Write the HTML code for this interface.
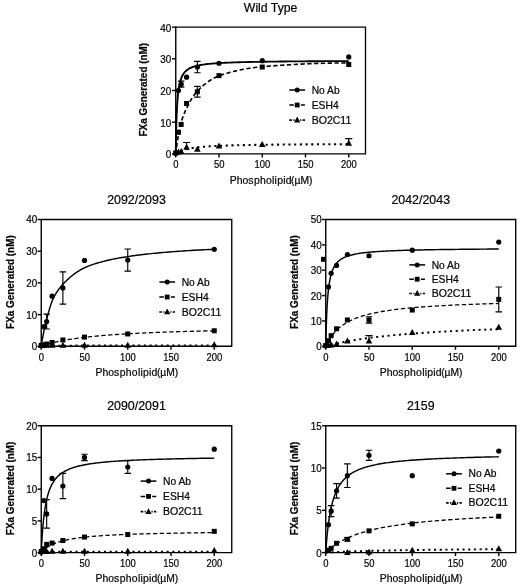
<!DOCTYPE html>
<html><head><meta charset="utf-8"><title>FXa Generated vs Phospholipid</title>
<style>html,body{margin:0;padding:0;background:#fff}svg{display:block}text{font-family:"Liberation Sans", Arial, Helvetica, sans-serif;fill:#000;stroke:#000;stroke-width:.2px}</style>
</head><body>
<svg width="520" height="587" viewBox="0 0 520 587">
<rect width="520" height="587" fill="#fff"/>
<g>
<text x="270.62" y="11.5" font-size="12" text-anchor="middle" textLength="53.6" lengthAdjust="spacingAndGlyphs">Wild Type</text>
<path d="M175.75 153.9 L175.75 153.66 L175.77 152.82 L175.79 151.32 L175.82 149.15 L175.86 146.39 L175.92 143.11 L175.99 139.43 L176.07 135.46 L176.16 131.32 L176.27 127.12 L176.39 122.94 L176.53 118.86 L176.68 114.92 L176.84 111.17 L177.02 107.63 L177.21 104.32 L177.42 101.23 L177.65 98.36 L177.89 95.71 L178.14 93.27 L178.41 91.02 L178.7 88.95 L179 87.05 L179.32 85.3 L179.66 83.69 L180.01 82.21 L180.38 80.86 L180.77 79.61 L181.17 78.45 L181.59 77.39 L182.02 76.41 L182.48 75.5 L182.95 74.67 L183.44 73.89 L183.94 73.17 L184.47 72.5 L185.01 71.88 L185.57 71.3 L186.15 70.76 L186.74 70.26 L187.36 69.79 L187.99 69.35 L188.64 68.94 L189.31 68.55 L189.99 68.19 L190.7 67.85 L191.42 67.53 L192.17 67.23 L192.93 66.95 L193.71 66.69 L194.51 66.43 L195.33 66.2 L196.17 65.97 L197.02 65.76 L197.9 65.56 L198.8 65.37 L199.71 65.19 L200.64 65.02 L201.6 64.85 L202.57 64.7 L203.57 64.55 L204.58 64.41 L205.61 64.28 L206.66 64.15 L207.74 64.03 L208.83 63.91 L209.94 63.8 L211.08 63.7 L212.23 63.6 L213.4 63.5 L214.59 63.41 L215.81 63.32 L217.04 63.23 L218.3 63.15 L219.57 63.07 L220.87 63 L222.18 62.93 L223.52 62.86 L224.88 62.79 L226.26 62.73 L227.66 62.67 L229.08 62.61 L230.52 62.55 L231.98 62.49 L233.46 62.44 L234.97 62.39 L236.49 62.34 L238.04 62.29 L239.61 62.25 L241.2 62.2 L242.81 62.16 L244.44 62.12 L246.09 62.08 L247.77 62.04 L249.47 62 L251.18 61.97 L252.92 61.93 L254.68 61.9 L256.47 61.86 L258.27 61.83 L260.1 61.8 L261.95 61.77 L263.82 61.74 L265.71 61.71 L267.62 61.69 L269.56 61.66 L271.52 61.64 L273.5 61.61 L275.5 61.59 L277.52 61.56 L279.57 61.54 L281.64 61.52 L283.73 61.5 L285.84 61.47 L287.98 61.45 L290.14 61.43 L292.32 61.41 L294.52 61.4 L296.75 61.38 L298.99 61.36 L301.26 61.34 L303.56 61.32 L305.87 61.31 L308.21 61.29 L310.57 61.28 L312.96 61.26 L315.37 61.25 L317.8 61.23 L320.25 61.22 L322.72 61.2 L325.22 61.19 L327.74 61.18 L330.29 61.16 L332.86 61.15 L335.45 61.14 L338.06 61.13 L340.7 61.11 L343.36 61.1 L346.04 61.09 L348.75 61.08" fill="none" stroke="#000" stroke-width="1.85" stroke-linejoin="round"/>
<path d="M175.75 153.9 L175.75 153.84 L175.77 153.7 L175.79 153.46 L175.82 153.13 L175.86 152.72 L175.92 152.25 L175.99 151.71 L176.07 151.14 L176.16 150.53 L176.27 149.83 L176.39 148.9 L176.53 147.79 L176.68 146.55 L176.84 145.25 L177.02 143.94 L177.21 142.62 L177.42 141.21 L177.65 139.72 L177.89 138.19 L178.14 136.64 L178.41 135.1 L178.7 133.55 L179 131.96 L179.32 130.34 L179.66 128.72 L180.01 127.1 L180.38 125.51 L180.77 123.96 L181.17 122.48 L181.59 121.04 L182.02 119.63 L182.48 118.25 L182.95 116.89 L183.44 115.55 L183.94 114.24 L184.47 112.94 L185.01 111.65 L185.57 110.38 L186.15 109.13 L186.74 107.88 L187.36 106.63 L187.99 105.37 L188.64 104.12 L189.31 102.86 L189.99 101.62 L190.7 100.39 L191.42 99.17 L192.17 97.98 L192.93 96.81 L193.71 95.67 L194.51 94.57 L195.33 93.5 L196.17 92.48 L197.02 91.51 L197.9 90.58 L198.8 89.67 L199.71 88.76 L200.64 87.86 L201.6 86.97 L202.57 86.1 L203.57 85.24 L204.58 84.39 L205.61 83.57 L206.66 82.76 L207.74 81.98 L208.83 81.22 L209.94 80.48 L211.08 79.78 L212.23 79.1 L213.4 78.45 L214.59 77.83 L215.81 77.24 L217.04 76.69 L218.3 76.18 L219.57 75.71 L220.87 75.25 L222.18 74.79 L223.52 74.34 L224.88 73.9 L226.26 73.47 L227.66 73.05 L229.08 72.64 L230.52 72.24 L231.98 71.84 L233.46 71.46 L234.97 71.09 L236.49 70.72 L238.04 70.37 L239.61 70.03 L241.2 69.7 L242.81 69.38 L244.44 69.08 L246.09 68.78 L247.77 68.5 L249.47 68.24 L251.18 67.98 L252.92 67.74 L254.68 67.51 L256.47 67.3 L258.27 67.1 L260.1 66.92 L261.95 66.75 L263.82 66.59 L265.71 66.44 L267.62 66.28 L269.56 66.13 L271.52 65.97 L273.5 65.82 L275.5 65.67 L277.52 65.53 L279.57 65.38 L281.64 65.24 L283.73 65.1 L285.84 64.96 L287.98 64.83 L290.14 64.7 L292.32 64.57 L294.52 64.44 L296.75 64.32 L298.99 64.2 L301.26 64.09 L303.56 63.98 L305.87 63.87 L308.21 63.77 L310.57 63.68 L312.96 63.59 L315.37 63.5 L317.8 63.42 L320.25 63.34 L322.72 63.27 L325.22 63.21 L327.74 63.15 L330.29 63.1 L332.86 63.05 L335.45 63.01 L338.06 62.98 L340.7 62.95 L343.36 62.94 L346.04 62.92 L348.75 62.92" fill="none" stroke="#000" stroke-width="1.63" stroke-dasharray="4.3 2.5" stroke-linejoin="round"/>
<path d="M175.75 153.9 L175.75 153.9 L175.77 153.89 L175.79 153.87 L175.82 153.84 L175.86 153.81 L175.92 153.77 L175.99 153.71 L176.07 153.65 L176.16 153.58 L176.27 153.5 L176.39 153.41 L176.53 153.31 L176.68 153.2 L176.84 153.09 L177.02 152.97 L177.21 152.84 L177.42 152.71 L177.65 152.57 L177.89 152.42 L178.14 152.27 L178.41 152.12 L178.7 151.96 L179 151.8 L179.32 151.64 L179.66 151.48 L180.01 151.31 L180.38 151.15 L180.77 150.98 L181.17 150.82 L181.59 150.65 L182.02 150.49 L182.48 150.33 L182.95 150.17 L183.44 150.01 L183.94 149.85 L184.47 149.7 L185.01 149.54 L185.57 149.39 L186.15 149.25 L186.74 149.1 L187.36 148.96 L187.99 148.82 L188.64 148.69 L189.31 148.55 L189.99 148.43 L190.7 148.3 L191.42 148.18 L192.17 148.06 L192.93 147.94 L193.71 147.83 L194.51 147.72 L195.33 147.61 L196.17 147.5 L197.02 147.4 L197.9 147.3 L198.8 147.21 L199.71 147.11 L200.64 147.02 L201.6 146.94 L202.57 146.85 L203.57 146.77 L204.58 146.69 L205.61 146.61 L206.66 146.53 L207.74 146.46 L208.83 146.39 L209.94 146.32 L211.08 146.25 L212.23 146.18 L213.4 146.12 L214.59 146.06 L215.81 146 L217.04 145.94 L218.3 145.88 L219.57 145.83 L220.87 145.78 L222.18 145.72 L223.52 145.67 L224.88 145.62 L226.26 145.58 L227.66 145.53 L229.08 145.49 L230.52 145.44 L231.98 145.4 L233.46 145.36 L234.97 145.32 L236.49 145.28 L238.04 145.24 L239.61 145.21 L241.2 145.17 L242.81 145.13 L244.44 145.1 L246.09 145.07 L247.77 145.04 L249.47 145 L251.18 144.97 L252.92 144.94 L254.68 144.92 L256.47 144.89 L258.27 144.86 L260.1 144.83 L261.95 144.81 L263.82 144.78 L265.71 144.76 L267.62 144.73 L269.56 144.71 L271.52 144.69 L273.5 144.66 L275.5 144.64 L277.52 144.62 L279.57 144.6 L281.64 144.58 L283.73 144.56 L285.84 144.54 L287.98 144.52 L290.14 144.5 L292.32 144.49 L294.52 144.47 L296.75 144.45 L298.99 144.44 L301.26 144.42 L303.56 144.4 L305.87 144.39 L308.21 144.37 L310.57 144.36 L312.96 144.34 L315.37 144.33 L317.8 144.31 L320.25 144.3 L322.72 144.29 L325.22 144.27 L327.74 144.26 L330.29 144.25 L332.86 144.24 L335.45 144.23 L338.06 144.21 L340.7 144.2 L343.36 144.19 L346.04 144.18 L348.75 144.17" fill="none" stroke="#000" stroke-width="2.1" stroke-dasharray="2.1 3.6" stroke-dashoffset="0" stroke-linejoin="round"/>
<path d="M175.75 27.1 H365.5 V153.9" fill="none" stroke="#000" stroke-width="1.35"/>
<path d="M175.75 26.6 V153.9 H366" fill="none" stroke="#000" stroke-width="1.4"/>
<path d="M172.05 153.9 H175.75" stroke="#000" stroke-width="1.4"/>
<text x="171.35" y="158.4" font-size="10.3" text-anchor="end" textLength="5.5" lengthAdjust="spacingAndGlyphs">0</text>
<path d="M172.05 122.2 H175.75" stroke="#000" stroke-width="1.4"/>
<text x="171.35" y="126.7" font-size="10.3" text-anchor="end" textLength="11" lengthAdjust="spacingAndGlyphs">10</text>
<path d="M172.05 90.5 H175.75" stroke="#000" stroke-width="1.4"/>
<text x="171.35" y="95" font-size="10.3" text-anchor="end" textLength="11" lengthAdjust="spacingAndGlyphs">20</text>
<path d="M172.05 58.8 H175.75" stroke="#000" stroke-width="1.4"/>
<text x="171.35" y="63.3" font-size="10.3" text-anchor="end" textLength="11" lengthAdjust="spacingAndGlyphs">30</text>
<path d="M172.05 27.1 H175.75" stroke="#000" stroke-width="1.4"/>
<text x="171.35" y="31.6" font-size="10.3" text-anchor="end" textLength="11" lengthAdjust="spacingAndGlyphs">40</text>
<path d="M175.75 153.9 V157.4" stroke="#000" stroke-width="1.4"/>
<text x="175.95" y="168.4" font-size="10.3" text-anchor="middle" textLength="5.25" lengthAdjust="spacingAndGlyphs">0</text>
<path d="M219 153.9 V157.4" stroke="#000" stroke-width="1.4"/>
<text x="219.2" y="168.4" font-size="10.3" text-anchor="middle" textLength="10.5" lengthAdjust="spacingAndGlyphs">50</text>
<path d="M262.25 153.9 V157.4" stroke="#000" stroke-width="1.4"/>
<text x="262.45" y="168.4" font-size="10.3" text-anchor="middle" textLength="15.75" lengthAdjust="spacingAndGlyphs">100</text>
<path d="M305.5 153.9 V157.4" stroke="#000" stroke-width="1.4"/>
<text x="305.7" y="168.4" font-size="10.3" text-anchor="middle" textLength="15.75" lengthAdjust="spacingAndGlyphs">150</text>
<path d="M348.75 153.9 V157.4" stroke="#000" stroke-width="1.4"/>
<text x="348.95" y="168.4" font-size="10.3" text-anchor="middle" textLength="15.75" lengthAdjust="spacingAndGlyphs">200</text>
<text y="184.1" font-size="10.4"><tspan x="229.72">Phos</tspan><tspan x="253.93" textLength="37.6" lengthAdjust="spacing">pholipid</tspan><tspan x="291.02" textLength="21.4" lengthAdjust="spacingAndGlyphs">(µM)</tspan></text>
<text transform="translate(147.05 89.7) rotate(-90)" font-size="10" font-weight="bold" text-anchor="middle" textLength="93.6" lengthAdjust="spacingAndGlyphs" stroke="none">FXa Generated (nM)</text>
<circle cx="175.75" cy="153.27" r="2.6"/>
<circle cx="178.45" cy="90.5" r="2.6"/>
<path d="M181.16 81.15 V84.16 M177.91 81.15 H184.41" stroke="#000" stroke-width="1.15" fill="none"/>
<path d="M181.16 87.17 V84.16 M177.91 87.17 H184.41" stroke="#000" stroke-width="1.15" fill="none"/>
<circle cx="181.16" cy="84.16" r="2.6"/>
<circle cx="186.56" cy="77.19" r="2.6"/>
<path d="M197.38 61.34 V67.04 M194.12 61.34 H200.62" stroke="#000" stroke-width="1.15" fill="none"/>
<path d="M197.38 72.75 V67.04 M194.12 72.75 H200.62" stroke="#000" stroke-width="1.15" fill="none"/>
<circle cx="197.38" cy="67.04" r="2.6"/>
<circle cx="219" cy="63.24" r="2.6"/>
<circle cx="262.25" cy="60.7" r="2.6"/>
<circle cx="348.75" cy="56.9" r="2.6"/>
<rect x="173.25" y="150.45" width="5" height="5"/>
<rect x="175.95" y="129.84" width="5" height="5"/>
<rect x="178.66" y="121.92" width="5" height="5"/>
<rect x="184.06" y="101" width="5" height="5"/>
<path d="M197.38 86.38 V91.77 M194.12 86.38 H200.62" stroke="#000" stroke-width="1.15" fill="none"/>
<path d="M197.38 97.16 V91.77 M194.12 97.16 H200.62" stroke="#000" stroke-width="1.15" fill="none"/>
<rect x="194.88" y="89.27" width="5" height="5"/>
<rect x="216.5" y="73.1" width="5" height="5"/>
<rect x="259.75" y="64.54" width="5" height="5"/>
<rect x="346.25" y="62.01" width="5" height="5"/>
<path d="M175.75 148.93 L179.05 154.93 H172.45 Z"/>
<path d="M178.45 148.62 L181.75 154.62 H175.15 Z"/>
<path d="M181.16 147.98 L184.46 153.98 H177.86 Z"/>
<path d="M186.56 142.49 V147.56 M182.96 142.49 H190.16" stroke="#000" stroke-width="1.15" fill="none"/>
<path d="M186.56 143.86 L189.86 149.86 H183.26 Z"/>
<path d="M197.38 145.76 L200.68 151.76 H194.07 Z"/>
<path d="M219 142.59 L222.3 148.59 H215.7 Z"/>
<path d="M262.25 141.01 L265.55 147.01 H258.95 Z"/>
<path d="M348.75 138.68 V143.44 M345.15 138.68 H352.35" stroke="#000" stroke-width="1.15" fill="none"/>
<path d="M348.75 139.74 L352.05 145.74 H345.45 Z"/>
<path d="M289.3 90 H305.1" stroke="#000" stroke-width="1.5"/>
<circle cx="297.2" cy="90" r="2.5"/>
<text x="311.7" y="93.6" font-size="10.2" textLength="28.0" lengthAdjust="spacingAndGlyphs">No Ab</text>
<path d="M289.3 105.05 H293.9 M300.9 105.05 H304.9" stroke="#000" stroke-width="1.5"/>
<rect x="294.8" y="102.65" width="4.8" height="4.8"/>
<text x="311.7" y="108.65" font-size="10.2" textLength="27.0" lengthAdjust="spacingAndGlyphs">ESH4</text>
<path d="M289.3 120.1 h2.6 M293.3 120.1 h1.2 M300.2 120.1 h1.2 M302.7 120.1 h2.3" stroke="#000" stroke-width="1.7"/>
<path d="M297.2 116.6 L300.3 122.4 H294.1 Z"/>
<text x="311.7" y="123.7" font-size="10.2" textLength="39.6" lengthAdjust="spacingAndGlyphs">BO2C11</text>
</g>
<g>
<text x="136.5" y="203.8" font-size="12" text-anchor="middle" textLength="58.7" lengthAdjust="spacingAndGlyphs">2092/2093</text>
<path d="M41.25 346.3 L41.25 346.2 L41.27 346.03 L41.29 345.79 L41.32 345.48 L41.36 345.11 L41.42 344.67 L41.49 344.17 L41.57 343.61 L41.66 342.99 L41.77 342.33 L41.89 341.63 L42.03 340.89 L42.18 340.11 L42.34 339.31 L42.52 338.49 L42.71 337.58 L42.92 336.45 L43.15 335.17 L43.39 333.78 L43.64 332.36 L43.91 330.96 L44.2 329.59 L44.5 328.2 L44.82 326.79 L45.16 325.34 L45.51 323.87 L45.88 322.38 L46.27 320.86 L46.67 319.31 L47.09 317.71 L47.52 316.06 L47.98 314.35 L48.45 312.61 L48.94 310.86 L49.44 309.1 L49.97 307.35 L50.51 305.64 L51.07 303.97 L51.65 302.37 L52.24 300.84 L52.86 299.37 L53.49 297.98 L54.14 296.68 L54.81 295.46 L55.49 294.26 L56.2 293.09 L56.92 291.94 L57.67 290.83 L58.43 289.74 L59.21 288.67 L60.01 287.64 L60.83 286.62 L61.67 285.63 L62.52 284.66 L63.4 283.71 L64.3 282.78 L65.21 281.85 L66.14 280.93 L67.1 280.01 L68.07 279.1 L69.07 278.2 L70.08 277.32 L71.11 276.44 L72.16 275.58 L73.24 274.74 L74.33 273.91 L75.44 273.11 L76.58 272.32 L77.73 271.56 L78.9 270.82 L80.09 270.11 L81.31 269.42 L82.54 268.76 L83.8 268.14 L85.07 267.54 L86.37 266.97 L87.68 266.42 L89.02 265.88 L90.38 265.37 L91.76 264.87 L93.16 264.38 L94.58 263.91 L96.02 263.46 L97.48 263.01 L98.96 262.58 L100.47 262.16 L101.99 261.75 L103.54 261.35 L105.11 260.96 L106.7 260.57 L108.31 260.2 L109.94 259.83 L111.59 259.47 L113.27 259.12 L114.97 258.78 L116.68 258.44 L118.42 258.12 L120.18 257.81 L121.97 257.5 L123.77 257.2 L125.6 256.91 L127.45 256.63 L129.32 256.36 L131.21 256.09 L133.12 255.83 L135.06 255.56 L137.02 255.31 L139 255.05 L141 254.8 L143.02 254.56 L145.07 254.32 L147.14 254.08 L149.23 253.85 L151.34 253.62 L153.48 253.4 L155.64 253.18 L157.82 252.97 L160.02 252.76 L162.25 252.56 L164.49 252.36 L166.76 252.17 L169.06 251.99 L171.37 251.81 L173.71 251.63 L176.07 251.45 L178.46 251.28 L180.87 251.12 L183.3 250.95 L185.75 250.79 L188.22 250.63 L190.72 250.48 L193.24 250.33 L195.79 250.19 L198.36 250.04 L200.95 249.91 L203.56 249.78 L206.2 249.65 L208.86 249.53 L211.54 249.41 L214.25 249.3" fill="none" stroke="#000" stroke-width="1.45" stroke-linejoin="round"/>
<path d="M41.25 346.3 L41.25 346.3 L41.27 346.29 L41.29 346.29 L41.32 346.27 L41.36 346.26 L41.42 346.24 L41.49 346.21 L41.57 346.18 L41.66 346.15 L41.77 346.11 L41.89 346.07 L42.03 346.02 L42.18 345.97 L42.34 345.91 L42.52 345.84 L42.71 345.78 L42.92 345.7 L43.15 345.63 L43.39 345.55 L43.64 345.46 L43.91 345.37 L44.2 345.27 L44.5 345.17 L44.82 345.07 L45.16 344.96 L45.51 344.85 L45.88 344.73 L46.27 344.61 L46.67 344.49 L47.09 344.36 L47.52 344.23 L47.98 344.1 L48.45 343.96 L48.94 343.82 L49.44 343.68 L49.97 343.53 L50.51 343.39 L51.07 343.24 L51.65 343.08 L52.24 342.93 L52.86 342.77 L53.49 342.62 L54.14 342.46 L54.81 342.3 L55.49 342.14 L56.2 341.97 L56.92 341.81 L57.67 341.64 L58.43 341.48 L59.21 341.31 L60.01 341.15 L60.83 340.98 L61.67 340.81 L62.52 340.64 L63.4 340.48 L64.3 340.31 L65.21 340.14 L66.14 339.98 L67.1 339.81 L68.07 339.65 L69.07 339.48 L70.08 339.32 L71.11 339.15 L72.16 338.99 L73.24 338.83 L74.33 338.67 L75.44 338.51 L76.58 338.35 L77.73 338.19 L78.9 338.04 L80.09 337.88 L81.31 337.73 L82.54 337.58 L83.8 337.42 L85.07 337.27 L86.37 337.13 L87.68 336.98 L89.02 336.83 L90.38 336.69 L91.76 336.55 L93.16 336.41 L94.58 336.27 L96.02 336.13 L97.48 336 L98.96 335.86 L100.47 335.73 L101.99 335.6 L103.54 335.47 L105.11 335.34 L106.7 335.22 L108.31 335.09 L109.94 334.97 L111.59 334.85 L113.27 334.73 L114.97 334.61 L116.68 334.49 L118.42 334.38 L120.18 334.27 L121.97 334.15 L123.77 334.04 L125.6 333.94 L127.45 333.83 L129.32 333.72 L131.21 333.62 L133.12 333.52 L135.06 333.42 L137.02 333.32 L139 333.22 L141 333.12 L143.02 333.03 L145.07 332.93 L147.14 332.84 L149.23 332.75 L151.34 332.66 L153.48 332.57 L155.64 332.49 L157.82 332.4 L160.02 332.32 L162.25 332.23 L164.49 332.15 L166.76 332.07 L169.06 331.99 L171.37 331.91 L173.71 331.83 L176.07 331.76 L178.46 331.68 L180.87 331.61 L183.3 331.54 L185.75 331.47 L188.22 331.4 L190.72 331.33 L193.24 331.26 L195.79 331.19 L198.36 331.13 L200.95 331.06 L203.56 331 L206.2 330.93 L208.86 330.87 L211.54 330.81 L214.25 330.75" fill="none" stroke="#000" stroke-width="1.28" stroke-dasharray="4.3 2.5" stroke-linejoin="round"/>
<path d="M41.25 346.3 L41.25 346.3 L41.27 346.3 L41.29 346.29 L41.32 346.29 L41.36 346.28 L41.42 346.27 L41.49 346.26 L41.57 346.25 L41.66 346.23 L41.77 346.21 L41.89 346.2 L42.03 346.18 L42.18 346.16 L42.34 346.14 L42.52 346.12 L42.71 346.1 L42.92 346.08 L43.15 346.06 L43.39 346.04 L43.64 346.02 L43.91 346 L44.2 345.98 L44.5 345.96 L44.82 345.94 L45.16 345.92 L45.51 345.91 L45.88 345.89 L46.27 345.87 L46.67 345.86 L47.09 345.84 L47.52 345.83 L47.98 345.82 L48.45 345.8 L48.94 345.79 L49.44 345.78 L49.97 345.77 L50.51 345.76 L51.07 345.75 L51.65 345.74 L52.24 345.73 L52.86 345.72 L53.49 345.71 L54.14 345.71 L54.81 345.7 L55.49 345.69 L56.2 345.69 L56.92 345.68 L57.67 345.67 L58.43 345.67 L59.21 345.66 L60.01 345.66 L60.83 345.65 L61.67 345.65 L62.52 345.64 L63.4 345.64 L64.3 345.63 L65.21 345.63 L66.14 345.62 L67.1 345.62 L68.07 345.62 L69.07 345.61 L70.08 345.61 L71.11 345.61 L72.16 345.6 L73.24 345.6 L74.33 345.6 L75.44 345.6 L76.58 345.59 L77.73 345.59 L78.9 345.59 L80.09 345.59 L81.31 345.58 L82.54 345.58 L83.8 345.58 L85.07 345.58 L86.37 345.58 L87.68 345.58 L89.02 345.57 L90.38 345.57 L91.76 345.57 L93.16 345.57 L94.58 345.57 L96.02 345.57 L97.48 345.56 L98.96 345.56 L100.47 345.56 L101.99 345.56 L103.54 345.56 L105.11 345.56 L106.7 345.56 L108.31 345.56 L109.94 345.55 L111.59 345.55 L113.27 345.55 L114.97 345.55 L116.68 345.55 L118.42 345.55 L120.18 345.55 L121.97 345.55 L123.77 345.55 L125.6 345.55 L127.45 345.55 L129.32 345.54 L131.21 345.54 L133.12 345.54 L135.06 345.54 L137.02 345.54 L139 345.54 L141 345.54 L143.02 345.54 L145.07 345.54 L147.14 345.54 L149.23 345.54 L151.34 345.54 L153.48 345.54 L155.64 345.54 L157.82 345.54 L160.02 345.54 L162.25 345.53 L164.49 345.53 L166.76 345.53 L169.06 345.53 L171.37 345.53 L173.71 345.53 L176.07 345.53 L178.46 345.53 L180.87 345.53 L183.3 345.53 L185.75 345.53 L188.22 345.53 L190.72 345.53 L193.24 345.53 L195.79 345.53 L198.36 345.53 L200.95 345.53 L203.56 345.53 L206.2 345.53 L208.86 345.53 L211.54 345.53 L214.25 345.53" fill="none" stroke="#000" stroke-width="1.95" stroke-dasharray="2.1 3.6" stroke-dashoffset="0" stroke-linejoin="round"/>
<path d="M41.25 219.5 H231.75 V346.3" fill="none" stroke="#000" stroke-width="1.35"/>
<path d="M41.25 219 V346.3 H232.25" fill="none" stroke="#000" stroke-width="1.4"/>
<path d="M37.55 346.3 H41.25" stroke="#000" stroke-width="1.4"/>
<text x="37.25" y="350.25" font-size="10.3" text-anchor="end" textLength="5.5" lengthAdjust="spacingAndGlyphs">0</text>
<path d="M37.55 314.6 H41.25" stroke="#000" stroke-width="1.4"/>
<text x="37.25" y="318.55" font-size="10.3" text-anchor="end" textLength="11" lengthAdjust="spacingAndGlyphs">10</text>
<path d="M37.55 282.9 H41.25" stroke="#000" stroke-width="1.4"/>
<text x="37.25" y="286.85" font-size="10.3" text-anchor="end" textLength="11" lengthAdjust="spacingAndGlyphs">20</text>
<path d="M37.55 251.2 H41.25" stroke="#000" stroke-width="1.4"/>
<text x="37.25" y="255.15" font-size="10.3" text-anchor="end" textLength="11" lengthAdjust="spacingAndGlyphs">30</text>
<path d="M37.55 219.5 H41.25" stroke="#000" stroke-width="1.4"/>
<text x="37.25" y="223.45" font-size="10.3" text-anchor="end" textLength="11" lengthAdjust="spacingAndGlyphs">40</text>
<path d="M41.25 346.3 V349.8" stroke="#000" stroke-width="1.4"/>
<text x="41.45" y="360.8" font-size="10.3" text-anchor="middle" textLength="5.25" lengthAdjust="spacingAndGlyphs">0</text>
<path d="M84.5 346.3 V349.8" stroke="#000" stroke-width="1.4"/>
<text x="84.7" y="360.8" font-size="10.3" text-anchor="middle" textLength="10.5" lengthAdjust="spacingAndGlyphs">50</text>
<path d="M127.75 346.3 V349.8" stroke="#000" stroke-width="1.4"/>
<text x="127.95" y="360.8" font-size="10.3" text-anchor="middle" textLength="15.75" lengthAdjust="spacingAndGlyphs">100</text>
<path d="M171 346.3 V349.8" stroke="#000" stroke-width="1.4"/>
<text x="171.2" y="360.8" font-size="10.3" text-anchor="middle" textLength="15.75" lengthAdjust="spacingAndGlyphs">150</text>
<path d="M214.25 346.3 V349.8" stroke="#000" stroke-width="1.4"/>
<text x="214.45" y="360.8" font-size="10.3" text-anchor="middle" textLength="15.75" lengthAdjust="spacingAndGlyphs">200</text>
<text y="375.8" font-size="10.4"><tspan x="95.6">Phos</tspan><tspan x="119.8" textLength="37.6" lengthAdjust="spacing">pholipid</tspan><tspan x="156.9" textLength="21.4" lengthAdjust="spacingAndGlyphs">(µM)</tspan></text>
<text transform="translate(13.95 282.1) rotate(-90)" font-size="10" font-weight="bold" text-anchor="middle" textLength="93.6" lengthAdjust="spacingAndGlyphs" stroke="none">FXa Generated (nM)</text>
<circle cx="41.25" cy="345.67" r="2.6"/>
<circle cx="43.95" cy="326.65" r="2.6"/>
<path d="M46.66 314.12 V321.57 M43.41 314.12 H49.91" stroke="#000" stroke-width="1.15" fill="none"/>
<path d="M46.66 329.02 V321.57 M43.41 329.02 H49.91" stroke="#000" stroke-width="1.15" fill="none"/>
<circle cx="46.66" cy="321.57" r="2.6"/>
<circle cx="52.06" cy="296.21" r="2.6"/>
<path d="M62.88 271.81 V287.97 M59.62 271.81 H66.12" stroke="#000" stroke-width="1.15" fill="none"/>
<path d="M62.88 304.14 V287.97 M59.62 304.14 H66.12" stroke="#000" stroke-width="1.15" fill="none"/>
<circle cx="62.88" cy="287.97" r="2.6"/>
<circle cx="84.5" cy="260.39" r="2.6"/>
<path d="M127.75 248.98 V260.08 M124.5 248.98 H131" stroke="#000" stroke-width="1.15" fill="none"/>
<path d="M127.75 271.17 V260.08 M124.5 271.17 H131" stroke="#000" stroke-width="1.15" fill="none"/>
<circle cx="127.75" cy="260.08" r="2.6"/>
<circle cx="214.25" cy="249.3" r="2.6"/>
<rect x="38.75" y="342.85" width="5" height="5"/>
<rect x="41.45" y="342.53" width="5" height="5"/>
<rect x="44.16" y="341.58" width="5" height="5"/>
<rect x="49.56" y="340" width="5" height="5"/>
<rect x="60.38" y="337.46" width="5" height="5"/>
<rect x="82" y="334.61" width="5" height="5"/>
<rect x="125.25" y="331.44" width="5" height="5"/>
<rect x="211.75" y="328.27" width="5" height="5"/>
<path d="M41.25 341.65 L44.55 347.65 H37.95 Z"/>
<path d="M43.95 341.65 L47.25 347.65 H40.65 Z"/>
<path d="M46.66 341.65 L49.96 347.65 H43.36 Z"/>
<path d="M52.06 341.65 L55.36 347.65 H48.76 Z"/>
<path d="M62.88 341.65 L66.17 347.65 H59.58 Z"/>
<path d="M84.5 341.65 L87.8 347.65 H81.2 Z"/>
<path d="M127.75 341.65 L131.05 347.65 H124.45 Z"/>
<path d="M214.25 341.33 L217.55 347.33 H210.95 Z"/>
<path d="M159.3 282 H175.1" stroke="#000" stroke-width="1.5"/>
<circle cx="167.2" cy="282" r="2.5"/>
<text x="181.7" y="285.6" font-size="10.2" textLength="28.0" lengthAdjust="spacingAndGlyphs">No Ab</text>
<path d="M159.3 297 H163.9 M170.9 297 H174.9" stroke="#000" stroke-width="1.5"/>
<rect x="164.8" y="294.6" width="4.8" height="4.8"/>
<text x="181.7" y="300.6" font-size="10.2" textLength="27.0" lengthAdjust="spacingAndGlyphs">ESH4</text>
<path d="M159.3 312 h2.6 M163.3 312 h1.2 M170.2 312 h1.2 M172.7 312 h2.3" stroke="#000" stroke-width="1.7"/>
<path d="M167.2 308.5 L170.3 314.3 H164.1 Z"/>
<text x="181.7" y="315.6" font-size="10.2" textLength="39.6" lengthAdjust="spacingAndGlyphs">BO2C11</text>
</g>
<g>
<text x="420.75" y="203.8" font-size="12" text-anchor="middle" textLength="58.7" lengthAdjust="spacingAndGlyphs">2042/2043</text>
<path d="M325.75 346.3 L325.75 346.14 L325.77 345.56 L325.79 344.51 L325.82 342.99 L325.86 341 L325.92 338.59 L325.99 335.8 L326.07 332.71 L326.16 329.39 L326.27 325.89 L326.39 322.29 L326.53 318.65 L326.68 315.02 L326.84 311.44 L327.02 307.95 L327.21 304.58 L327.42 301.35 L327.65 298.27 L327.89 295.34 L328.14 292.58 L328.41 289.98 L328.7 287.53 L329 285.24 L329.32 283.1 L329.66 281.09 L330.01 279.22 L330.38 277.48 L330.77 275.85 L331.17 274.33 L331.59 272.91 L332.02 271.59 L332.48 270.36 L332.95 269.21 L333.44 268.13 L333.94 267.13 L334.47 266.19 L335.01 265.3 L335.57 264.48 L336.15 263.71 L336.74 262.98 L337.36 262.3 L337.99 261.66 L338.64 261.06 L339.31 260.5 L339.99 259.96 L340.7 259.46 L341.42 258.99 L342.17 258.54 L342.93 258.12 L343.71 257.72 L344.51 257.34 L345.33 256.98 L346.17 256.64 L347.02 256.32 L347.9 256.01 L348.8 255.72 L349.71 255.45 L350.64 255.18 L351.6 254.94 L352.57 254.7 L353.57 254.47 L354.58 254.26 L355.61 254.05 L356.66 253.85 L357.74 253.66 L358.83 253.49 L359.94 253.31 L361.08 253.15 L362.23 252.99 L363.4 252.84 L364.59 252.7 L365.81 252.56 L367.04 252.43 L368.3 252.3 L369.57 252.18 L370.87 252.06 L372.18 251.95 L373.52 251.84 L374.88 251.73 L376.26 251.63 L377.66 251.54 L379.08 251.44 L380.52 251.35 L381.98 251.27 L383.46 251.18 L384.97 251.1 L386.49 251.02 L388.04 250.95 L389.61 250.88 L391.2 250.81 L392.81 250.74 L394.44 250.67 L396.09 250.61 L397.77 250.55 L399.47 250.49 L401.18 250.43 L402.92 250.38 L404.68 250.32 L406.47 250.27 L408.27 250.22 L410.1 250.17 L411.95 250.12 L413.82 250.08 L415.71 250.03 L417.62 249.99 L419.56 249.95 L421.52 249.91 L423.5 249.87 L425.5 249.83 L427.52 249.79 L429.57 249.75 L431.64 249.72 L433.73 249.68 L435.84 249.65 L437.98 249.62 L440.14 249.59 L442.32 249.55 L444.52 249.52 L446.75 249.49 L448.99 249.47 L451.26 249.44 L453.56 249.41 L455.87 249.38 L458.21 249.36 L460.57 249.33 L462.96 249.31 L465.37 249.29 L467.8 249.26 L470.25 249.24 L472.72 249.22 L475.22 249.2 L477.74 249.17 L480.29 249.15 L482.86 249.13 L485.45 249.11 L488.06 249.09 L490.7 249.08 L493.36 249.06 L496.04 249.04 L498.75 249.02" fill="none" stroke="#000" stroke-width="1.45" stroke-linejoin="round"/>
<path d="M325.75 346.3 L325.75 346.29 L325.77 346.27 L325.79 346.22 L325.82 346.15 L325.86 346.05 L325.92 345.93 L325.99 345.78 L326.07 345.6 L326.16 345.4 L326.27 345.17 L326.39 344.91 L326.53 344.63 L326.68 344.32 L326.84 343.98 L327.02 343.63 L327.21 343.24 L327.42 342.84 L327.65 342.41 L327.89 341.97 L328.14 341.5 L328.41 341.02 L328.7 340.52 L329 340 L329.32 339.47 L329.66 338.92 L330.01 338.37 L330.38 337.8 L330.77 337.23 L331.17 336.65 L331.59 336.06 L332.02 335.46 L332.48 334.87 L332.95 334.27 L333.44 333.66 L333.94 333.06 L334.47 332.46 L335.01 331.85 L335.57 331.25 L336.15 330.66 L336.74 330.06 L337.36 329.47 L337.99 328.89 L338.64 328.31 L339.31 327.73 L339.99 327.17 L340.7 326.61 L341.42 326.05 L342.17 325.51 L342.93 324.97 L343.71 324.44 L344.51 323.92 L345.33 323.4 L346.17 322.9 L347.02 322.41 L347.9 321.92 L348.8 321.44 L349.71 320.97 L350.64 320.51 L351.6 320.06 L352.57 319.62 L353.57 319.19 L354.58 318.77 L355.61 318.35 L356.66 317.95 L357.74 317.55 L358.83 317.16 L359.94 316.78 L361.08 316.41 L362.23 316.05 L363.4 315.69 L364.59 315.35 L365.81 315.01 L367.04 314.68 L368.3 314.35 L369.57 314.04 L370.87 313.73 L372.18 313.43 L373.52 313.13 L374.88 312.84 L376.26 312.56 L377.66 312.29 L379.08 312.02 L380.52 311.76 L381.98 311.5 L383.46 311.25 L384.97 311 L386.49 310.77 L388.04 310.53 L389.61 310.31 L391.2 310.08 L392.81 309.87 L394.44 309.65 L396.09 309.45 L397.77 309.24 L399.47 309.05 L401.18 308.85 L402.92 308.66 L404.68 308.48 L406.47 308.3 L408.27 308.12 L410.1 307.95 L411.95 307.78 L413.82 307.62 L415.71 307.45 L417.62 307.3 L419.56 307.14 L421.52 306.99 L423.5 306.84 L425.5 306.7 L427.52 306.56 L429.57 306.42 L431.64 306.29 L433.73 306.16 L435.84 306.03 L437.98 305.9 L440.14 305.78 L442.32 305.66 L444.52 305.54 L446.75 305.42 L448.99 305.31 L451.26 305.2 L453.56 305.09 L455.87 304.98 L458.21 304.88 L460.57 304.78 L462.96 304.68 L465.37 304.58 L467.8 304.48 L470.25 304.39 L472.72 304.3 L475.22 304.21 L477.74 304.12 L480.29 304.03 L482.86 303.95 L485.45 303.86 L488.06 303.78 L490.7 303.7 L493.36 303.62 L496.04 303.55 L498.75 303.47" fill="none" stroke="#000" stroke-width="1.28" stroke-dasharray="4.3 2.5" stroke-linejoin="round"/>
<path d="M325.75 346.3 L325.75 346.3 L325.77 346.3 L325.79 346.29 L325.82 346.28 L325.86 346.27 L325.92 346.25 L325.99 346.23 L326.07 346.21 L326.16 346.18 L326.27 346.16 L326.39 346.12 L326.53 346.08 L326.68 346.04 L326.84 346 L327.02 345.95 L327.21 345.9 L327.42 345.84 L327.65 345.78 L327.89 345.72 L328.14 345.65 L328.41 345.57 L328.7 345.5 L329 345.42 L329.32 345.34 L329.66 345.25 L330.01 345.16 L330.38 345.06 L330.77 344.97 L331.17 344.87 L331.59 344.76 L332.02 344.65 L332.48 344.54 L332.95 344.43 L333.44 344.31 L333.94 344.19 L334.47 344.06 L335.01 343.94 L335.57 343.81 L336.15 343.68 L336.74 343.54 L337.36 343.41 L337.99 343.27 L338.64 343.12 L339.31 342.98 L339.99 342.83 L340.7 342.68 L341.42 342.53 L342.17 342.38 L342.93 342.23 L343.71 342.07 L344.51 341.91 L345.33 341.76 L346.17 341.6 L347.02 341.43 L347.9 341.27 L348.8 341.11 L349.71 340.94 L350.64 340.78 L351.6 340.61 L352.57 340.44 L353.57 340.28 L354.58 340.11 L355.61 339.94 L356.66 339.77 L357.74 339.6 L358.83 339.43 L359.94 339.26 L361.08 339.09 L362.23 338.92 L363.4 338.75 L364.59 338.58 L365.81 338.41 L367.04 338.24 L368.3 338.07 L369.57 337.9 L370.87 337.73 L372.18 337.57 L373.52 337.4 L374.88 337.23 L376.26 337.07 L377.66 336.9 L379.08 336.74 L380.52 336.57 L381.98 336.41 L383.46 336.25 L384.97 336.08 L386.49 335.92 L388.04 335.76 L389.61 335.61 L391.2 335.45 L392.81 335.29 L394.44 335.14 L396.09 334.98 L397.77 334.83 L399.47 334.68 L401.18 334.52 L402.92 334.37 L404.68 334.23 L406.47 334.08 L408.27 333.93 L410.1 333.79 L411.95 333.64 L413.82 333.5 L415.71 333.36 L417.62 333.22 L419.56 333.08 L421.52 332.94 L423.5 332.81 L425.5 332.67 L427.52 332.54 L429.57 332.41 L431.64 332.27 L433.73 332.15 L435.84 332.02 L437.98 331.89 L440.14 331.76 L442.32 331.64 L444.52 331.52 L446.75 331.39 L448.99 331.27 L451.26 331.15 L453.56 331.04 L455.87 330.92 L458.21 330.8 L460.57 330.69 L462.96 330.58 L465.37 330.46 L467.8 330.35 L470.25 330.24 L472.72 330.14 L475.22 330.03 L477.74 329.92 L480.29 329.82 L482.86 329.72 L485.45 329.61 L488.06 329.51 L490.7 329.41 L493.36 329.31 L496.04 329.22 L498.75 329.12" fill="none" stroke="#000" stroke-width="1.95" stroke-dasharray="2.1 3.6" stroke-dashoffset="0" stroke-linejoin="round"/>
<path d="M325.75 219.5 H515.75 V346.3" fill="none" stroke="#000" stroke-width="1.35"/>
<path d="M325.75 219 V346.3 H516.25" fill="none" stroke="#000" stroke-width="1.4"/>
<path d="M322.05 346.3 H325.75" stroke="#000" stroke-width="1.4"/>
<text x="321.75" y="350.25" font-size="10.3" text-anchor="end" textLength="5.5" lengthAdjust="spacingAndGlyphs">0</text>
<path d="M322.05 320.94 H325.75" stroke="#000" stroke-width="1.4"/>
<text x="321.75" y="324.89" font-size="10.3" text-anchor="end" textLength="11" lengthAdjust="spacingAndGlyphs">10</text>
<path d="M322.05 295.58 H325.75" stroke="#000" stroke-width="1.4"/>
<text x="321.75" y="299.53" font-size="10.3" text-anchor="end" textLength="11" lengthAdjust="spacingAndGlyphs">20</text>
<path d="M322.05 270.22 H325.75" stroke="#000" stroke-width="1.4"/>
<text x="321.75" y="274.17" font-size="10.3" text-anchor="end" textLength="11" lengthAdjust="spacingAndGlyphs">30</text>
<path d="M322.05 244.86 H325.75" stroke="#000" stroke-width="1.4"/>
<text x="321.75" y="248.81" font-size="10.3" text-anchor="end" textLength="11" lengthAdjust="spacingAndGlyphs">40</text>
<path d="M322.05 219.5 H325.75" stroke="#000" stroke-width="1.4"/>
<text x="321.75" y="223.45" font-size="10.3" text-anchor="end" textLength="11" lengthAdjust="spacingAndGlyphs">50</text>
<path d="M325.75 346.3 V349.8" stroke="#000" stroke-width="1.4"/>
<text x="325.95" y="360.8" font-size="10.3" text-anchor="middle" textLength="5.25" lengthAdjust="spacingAndGlyphs">0</text>
<path d="M369 346.3 V349.8" stroke="#000" stroke-width="1.4"/>
<text x="369.2" y="360.8" font-size="10.3" text-anchor="middle" textLength="10.5" lengthAdjust="spacingAndGlyphs">50</text>
<path d="M412.25 346.3 V349.8" stroke="#000" stroke-width="1.4"/>
<text x="412.45" y="360.8" font-size="10.3" text-anchor="middle" textLength="15.75" lengthAdjust="spacingAndGlyphs">100</text>
<path d="M455.5 346.3 V349.8" stroke="#000" stroke-width="1.4"/>
<text x="455.7" y="360.8" font-size="10.3" text-anchor="middle" textLength="15.75" lengthAdjust="spacingAndGlyphs">150</text>
<path d="M498.75 346.3 V349.8" stroke="#000" stroke-width="1.4"/>
<text x="498.95" y="360.8" font-size="10.3" text-anchor="middle" textLength="15.75" lengthAdjust="spacingAndGlyphs">200</text>
<text y="375.8" font-size="10.4"><tspan x="379.85">Phos</tspan><tspan x="404.05" textLength="37.6" lengthAdjust="spacing">pholipid</tspan><tspan x="441.15" textLength="21.4" lengthAdjust="spacingAndGlyphs">(µM)</tspan></text>
<text transform="translate(298.45 282.1) rotate(-90)" font-size="10" font-weight="bold" text-anchor="middle" textLength="93.6" lengthAdjust="spacingAndGlyphs" stroke="none">FXa Generated (nM)</text>
<circle cx="325.75" cy="345.79" r="2.6"/>
<circle cx="328.45" cy="286.96" r="2.6"/>
<circle cx="331.16" cy="273.26" r="2.6"/>
<circle cx="336.56" cy="265.4" r="2.6"/>
<circle cx="347.38" cy="254.5" r="2.6"/>
<circle cx="369" cy="255.76" r="2.6"/>
<circle cx="412.25" cy="250.19" r="2.6"/>
<circle cx="498.75" cy="242.07" r="2.6"/>
<rect x="321.05" y="256.82" width="5" height="5"/>
<rect x="323.25" y="343.04" width="5" height="5"/>
<rect x="325.95" y="338.22" width="5" height="5"/>
<rect x="328.66" y="333.15" width="5" height="5"/>
<rect x="334.06" y="326.3" width="5" height="5"/>
<rect x="344.88" y="317.43" width="5" height="5"/>
<path d="M369 316.76 V319.93 M365.75 316.76 H372.25" stroke="#000" stroke-width="1.15" fill="none"/>
<path d="M369 323.1 V319.93 M365.75 323.1 H372.25" stroke="#000" stroke-width="1.15" fill="none"/>
<rect x="366.5" y="317.43" width="5" height="5"/>
<rect x="409.75" y="307.54" width="5" height="5"/>
<path d="M498.75 286.96 V299.38 M495.5 286.96 H502" stroke="#000" stroke-width="1.15" fill="none"/>
<path d="M498.75 311.81 V299.38 M495.5 311.81 H502" stroke="#000" stroke-width="1.15" fill="none"/>
<rect x="496.25" y="296.88" width="5" height="5"/>
<path d="M325.75 341.84 L329.05 347.84 H322.45 Z"/>
<path d="M328.45 341.84 L331.75 347.84 H325.15 Z"/>
<path d="M331.16 341.59 L334.46 347.59 H327.86 Z"/>
<path d="M336.56 340.57 L339.86 346.57 H333.26 Z"/>
<path d="M347.38 337.53 L350.68 343.53 H344.07 Z"/>
<path d="M369 335.65 V341.23 M365.4 335.65 H372.6" stroke="#000" stroke-width="1.15" fill="none"/>
<path d="M369 337.53 L372.3 343.53 H365.7 Z"/>
<path d="M412.25 328.91 L415.55 334.91 H408.95 Z"/>
<path d="M498.75 323.83 L502.05 329.83 H495.45 Z"/>
<path d="M409.3 264.9 H425.1" stroke="#000" stroke-width="1.5"/>
<circle cx="417.2" cy="264.9" r="2.5"/>
<text x="431.7" y="268.5" font-size="10.2" textLength="28.0" lengthAdjust="spacingAndGlyphs">No Ab</text>
<path d="M409.3 279.2 H413.9 M420.9 279.2 H424.9" stroke="#000" stroke-width="1.5"/>
<rect x="414.8" y="276.8" width="4.8" height="4.8"/>
<text x="431.7" y="282.8" font-size="10.2" textLength="27.0" lengthAdjust="spacingAndGlyphs">ESH4</text>
<path d="M409.3 293.5 h2.6 M413.3 293.5 h1.2 M420.2 293.5 h1.2 M422.7 293.5 h2.3" stroke="#000" stroke-width="1.7"/>
<path d="M417.2 290 L420.3 295.8 H414.1 Z"/>
<text x="431.7" y="297.1" font-size="10.2" textLength="39.6" lengthAdjust="spacingAndGlyphs">BO2C11</text>
</g>
<g>
<text x="136.5" y="409.6" font-size="12" text-anchor="middle" textLength="58.7" lengthAdjust="spacingAndGlyphs">2090/2091</text>
<path d="M41.25 552.6 L41.25 552.53 L41.27 552.28 L41.29 551.81 L41.32 551.13 L41.36 550.22 L41.42 549.09 L41.49 547.74 L41.57 546.19 L41.66 544.45 L41.77 542.55 L41.89 540.49 L42.03 538.32 L42.18 536.03 L42.34 533.67 L42.52 531.26 L42.71 528.8 L42.92 526.32 L43.15 523.85 L43.39 521.39 L43.64 518.95 L43.91 516.56 L44.2 514.21 L44.5 511.92 L44.82 509.7 L45.16 507.54 L45.51 505.45 L45.88 503.44 L46.27 501.51 L46.67 499.65 L47.09 497.86 L47.52 496.15 L47.98 494.52 L48.45 492.95 L48.94 491.46 L49.44 490.03 L49.97 488.67 L50.51 487.37 L51.07 486.13 L51.65 484.95 L52.24 483.83 L52.86 482.76 L53.49 481.73 L54.14 480.76 L54.81 479.83 L55.49 478.95 L56.2 478.1 L56.92 477.3 L57.67 476.53 L58.43 475.8 L59.21 475.1 L60.01 474.43 L60.83 473.79 L61.67 473.18 L62.52 472.6 L63.4 472.05 L64.3 471.51 L65.21 471 L66.14 470.52 L67.1 470.05 L68.07 469.6 L69.07 469.18 L70.08 468.77 L71.11 468.37 L72.16 468 L73.24 467.63 L74.33 467.29 L75.44 466.95 L76.58 466.63 L77.73 466.32 L78.9 466.03 L80.09 465.74 L81.31 465.47 L82.54 465.21 L83.8 464.95 L85.07 464.71 L86.37 464.47 L87.68 464.25 L89.02 464.03 L90.38 463.82 L91.76 463.61 L93.16 463.41 L94.58 463.23 L96.02 463.04 L97.48 462.86 L98.96 462.69 L100.47 462.53 L101.99 462.37 L103.54 462.21 L105.11 462.06 L106.7 461.92 L108.31 461.78 L109.94 461.64 L111.59 461.51 L113.27 461.38 L114.97 461.26 L116.68 461.14 L118.42 461.02 L120.18 460.91 L121.97 460.8 L123.77 460.7 L125.6 460.59 L127.45 460.49 L129.32 460.4 L131.21 460.3 L133.12 460.21 L135.06 460.12 L137.02 460.03 L139 459.95 L141 459.87 L143.02 459.79 L145.07 459.71 L147.14 459.64 L149.23 459.56 L151.34 459.49 L153.48 459.42 L155.64 459.35 L157.82 459.29 L160.02 459.22 L162.25 459.16 L164.49 459.1 L166.76 459.04 L169.06 458.98 L171.37 458.92 L173.71 458.87 L176.07 458.82 L178.46 458.76 L180.87 458.71 L183.3 458.66 L185.75 458.61 L188.22 458.56 L190.72 458.52 L193.24 458.47 L195.79 458.43 L198.36 458.38 L200.95 458.34 L203.56 458.3 L206.2 458.26 L208.86 458.22 L211.54 458.18 L214.25 458.14" fill="none" stroke="#000" stroke-width="1.45" stroke-linejoin="round"/>
<path d="M41.25 552.6 L41.25 552.6 L41.27 552.58 L41.29 552.56 L41.32 552.52 L41.36 552.47 L41.42 552.4 L41.49 552.33 L41.57 552.23 L41.66 552.13 L41.77 552.01 L41.89 551.88 L42.03 551.73 L42.18 551.57 L42.34 551.4 L42.52 551.21 L42.71 551.01 L42.92 550.81 L43.15 550.59 L43.39 550.36 L43.64 550.12 L43.91 549.87 L44.2 549.62 L44.5 549.36 L44.82 549.09 L45.16 548.82 L45.51 548.54 L45.88 548.26 L46.27 547.97 L46.67 547.68 L47.09 547.39 L47.52 547.1 L47.98 546.8 L48.45 546.51 L48.94 546.21 L49.44 545.92 L49.97 545.63 L50.51 545.33 L51.07 545.04 L51.65 544.76 L52.24 544.47 L52.86 544.19 L53.49 543.91 L54.14 543.64 L54.81 543.36 L55.49 543.1 L56.2 542.83 L56.92 542.57 L57.67 542.32 L58.43 542.07 L59.21 541.82 L60.01 541.58 L60.83 541.34 L61.67 541.11 L62.52 540.88 L63.4 540.66 L64.3 540.44 L65.21 540.23 L66.14 540.02 L67.1 539.81 L68.07 539.61 L69.07 539.42 L70.08 539.23 L71.11 539.04 L72.16 538.86 L73.24 538.68 L74.33 538.51 L75.44 538.34 L76.58 538.17 L77.73 538.01 L78.9 537.85 L80.09 537.7 L81.31 537.55 L82.54 537.4 L83.8 537.26 L85.07 537.12 L86.37 536.99 L87.68 536.85 L89.02 536.73 L90.38 536.6 L91.76 536.48 L93.16 536.36 L94.58 536.24 L96.02 536.13 L97.48 536.01 L98.96 535.91 L100.47 535.8 L101.99 535.7 L103.54 535.6 L105.11 535.5 L106.7 535.4 L108.31 535.31 L109.94 535.22 L111.59 535.13 L113.27 535.04 L114.97 534.96 L116.68 534.87 L118.42 534.79 L120.18 534.71 L121.97 534.64 L123.77 534.56 L125.6 534.49 L127.45 534.42 L129.32 534.35 L131.21 534.28 L133.12 534.21 L135.06 534.15 L137.02 534.08 L139 534.02 L141 533.96 L143.02 533.9 L145.07 533.84 L147.14 533.78 L149.23 533.73 L151.34 533.67 L153.48 533.62 L155.64 533.57 L157.82 533.52 L160.02 533.47 L162.25 533.42 L164.49 533.37 L166.76 533.32 L169.06 533.28 L171.37 533.23 L173.71 533.19 L176.07 533.15 L178.46 533.11 L180.87 533.06 L183.3 533.02 L185.75 532.98 L188.22 532.95 L190.72 532.91 L193.24 532.87 L195.79 532.84 L198.36 532.8 L200.95 532.76 L203.56 532.73 L206.2 532.7 L208.86 532.66 L211.54 532.63 L214.25 532.6" fill="none" stroke="#000" stroke-width="1.28" stroke-dasharray="4.3 2.5" stroke-linejoin="round"/>
<path d="M41.25 552.6 L41.25 552.6 L41.27 552.6 L41.29 552.59 L41.32 552.58 L41.36 552.58 L41.42 552.56 L41.49 552.55 L41.57 552.53 L41.66 552.52 L41.77 552.5 L41.89 552.48 L42.03 552.46 L42.18 552.43 L42.34 552.41 L42.52 552.38 L42.71 552.36 L42.92 552.33 L43.15 552.31 L43.39 552.29 L43.64 552.26 L43.91 552.24 L44.2 552.21 L44.5 552.19 L44.82 552.17 L45.16 552.15 L45.51 552.13 L45.88 552.11 L46.27 552.09 L46.67 552.07 L47.09 552.05 L47.52 552.04 L47.98 552.02 L48.45 552.01 L48.94 551.99 L49.44 551.98 L49.97 551.96 L50.51 551.95 L51.07 551.94 L51.65 551.93 L52.24 551.92 L52.86 551.91 L53.49 551.9 L54.14 551.89 L54.81 551.88 L55.49 551.87 L56.2 551.86 L56.92 551.85 L57.67 551.85 L58.43 551.84 L59.21 551.83 L60.01 551.83 L60.83 551.82 L61.67 551.81 L62.52 551.81 L63.4 551.8 L64.3 551.8 L65.21 551.79 L66.14 551.79 L67.1 551.78 L68.07 551.78 L69.07 551.78 L70.08 551.77 L71.11 551.77 L72.16 551.77 L73.24 551.76 L74.33 551.76 L75.44 551.76 L76.58 551.75 L77.73 551.75 L78.9 551.75 L80.09 551.74 L81.31 551.74 L82.54 551.74 L83.8 551.74 L85.07 551.73 L86.37 551.73 L87.68 551.73 L89.02 551.73 L90.38 551.73 L91.76 551.72 L93.16 551.72 L94.58 551.72 L96.02 551.72 L97.48 551.72 L98.96 551.71 L100.47 551.71 L101.99 551.71 L103.54 551.71 L105.11 551.71 L106.7 551.71 L108.31 551.71 L109.94 551.7 L111.59 551.7 L113.27 551.7 L114.97 551.7 L116.68 551.7 L118.42 551.7 L120.18 551.7 L121.97 551.7 L123.77 551.7 L125.6 551.7 L127.45 551.69 L129.32 551.69 L131.21 551.69 L133.12 551.69 L135.06 551.69 L137.02 551.69 L139 551.69 L141 551.69 L143.02 551.69 L145.07 551.69 L147.14 551.69 L149.23 551.69 L151.34 551.68 L153.48 551.68 L155.64 551.68 L157.82 551.68 L160.02 551.68 L162.25 551.68 L164.49 551.68 L166.76 551.68 L169.06 551.68 L171.37 551.68 L173.71 551.68 L176.07 551.68 L178.46 551.68 L180.87 551.68 L183.3 551.68 L185.75 551.68 L188.22 551.68 L190.72 551.68 L193.24 551.67 L195.79 551.67 L198.36 551.67 L200.95 551.67 L203.56 551.67 L206.2 551.67 L208.86 551.67 L211.54 551.67 L214.25 551.67" fill="none" stroke="#000" stroke-width="1.95" stroke-dasharray="2.1 3.6" stroke-dashoffset="0" stroke-linejoin="round"/>
<path d="M41.25 425.75 H231.75 V552.6" fill="none" stroke="#000" stroke-width="1.35"/>
<path d="M41.25 425.25 V552.6 H232.25" fill="none" stroke="#000" stroke-width="1.4"/>
<path d="M37.55 552.6 H41.25" stroke="#000" stroke-width="1.4"/>
<text x="37.25" y="556.55" font-size="10.3" text-anchor="end" textLength="5.5" lengthAdjust="spacingAndGlyphs">0</text>
<path d="M37.55 520.89 H41.25" stroke="#000" stroke-width="1.4"/>
<text x="37.25" y="524.84" font-size="10.3" text-anchor="end" textLength="5.5" lengthAdjust="spacingAndGlyphs">5</text>
<path d="M37.55 489.18 H41.25" stroke="#000" stroke-width="1.4"/>
<text x="37.25" y="493.12" font-size="10.3" text-anchor="end" textLength="11" lengthAdjust="spacingAndGlyphs">10</text>
<path d="M37.55 457.46 H41.25" stroke="#000" stroke-width="1.4"/>
<text x="37.25" y="461.41" font-size="10.3" text-anchor="end" textLength="11" lengthAdjust="spacingAndGlyphs">15</text>
<path d="M37.55 425.75 H41.25" stroke="#000" stroke-width="1.4"/>
<text x="37.25" y="429.7" font-size="10.3" text-anchor="end" textLength="11" lengthAdjust="spacingAndGlyphs">20</text>
<path d="M41.25 552.6 V556.1" stroke="#000" stroke-width="1.4"/>
<text x="41.45" y="567.1" font-size="10.3" text-anchor="middle" textLength="5.25" lengthAdjust="spacingAndGlyphs">0</text>
<path d="M84.5 552.6 V556.1" stroke="#000" stroke-width="1.4"/>
<text x="84.7" y="567.1" font-size="10.3" text-anchor="middle" textLength="10.5" lengthAdjust="spacingAndGlyphs">50</text>
<path d="M127.75 552.6 V556.1" stroke="#000" stroke-width="1.4"/>
<text x="127.95" y="567.1" font-size="10.3" text-anchor="middle" textLength="15.75" lengthAdjust="spacingAndGlyphs">100</text>
<path d="M171 552.6 V556.1" stroke="#000" stroke-width="1.4"/>
<text x="171.2" y="567.1" font-size="10.3" text-anchor="middle" textLength="15.75" lengthAdjust="spacingAndGlyphs">150</text>
<path d="M214.25 552.6 V556.1" stroke="#000" stroke-width="1.4"/>
<text x="214.45" y="567.1" font-size="10.3" text-anchor="middle" textLength="15.75" lengthAdjust="spacingAndGlyphs">200</text>
<text y="582.1" font-size="10.4"><tspan x="95.6">Phos</tspan><tspan x="119.8" textLength="37.6" lengthAdjust="spacing">pholipid</tspan><tspan x="156.9" textLength="21.4" lengthAdjust="spacingAndGlyphs">(µM)</tspan></text>
<text transform="translate(13.95 488.38) rotate(-90)" font-size="10" font-weight="bold" text-anchor="middle" textLength="93.6" lengthAdjust="spacingAndGlyphs" stroke="none">FXa Generated (nM)</text>
<circle cx="41.25" cy="551.97" r="2.6"/>
<circle cx="43.95" cy="500.59" r="2.6"/>
<path d="M46.66 499.64 V513.91 M43.41 499.64 H49.91" stroke="#000" stroke-width="1.15" fill="none"/>
<path d="M46.66 528.18 V513.91 M43.41 528.18 H49.91" stroke="#000" stroke-width="1.15" fill="none"/>
<circle cx="46.66" cy="513.91" r="2.6"/>
<circle cx="52.06" cy="478.39" r="2.6"/>
<path d="M62.88 473.32 V486 M59.62 473.32 H66.12" stroke="#000" stroke-width="1.15" fill="none"/>
<path d="M62.88 498.69 V486 M59.62 498.69 H66.12" stroke="#000" stroke-width="1.15" fill="none"/>
<circle cx="62.88" cy="486" r="2.6"/>
<path d="M84.5 454.29 V457.46 M81.25 454.29 H87.75" stroke="#000" stroke-width="1.15" fill="none"/>
<path d="M84.5 460.63 V457.46 M81.25 460.63 H87.75" stroke="#000" stroke-width="1.15" fill="none"/>
<circle cx="84.5" cy="457.46" r="2.6"/>
<path d="M127.75 460.63 V466.98 M124.5 460.63 H131" stroke="#000" stroke-width="1.15" fill="none"/>
<path d="M127.75 473.32 V466.98 M124.5 473.32 H131" stroke="#000" stroke-width="1.15" fill="none"/>
<circle cx="127.75" cy="466.98" r="2.6"/>
<circle cx="214.25" cy="449.22" r="2.6"/>
<rect x="38.75" y="549.15" width="5" height="5"/>
<rect x="41.45" y="546.29" width="5" height="5"/>
<rect x="44.16" y="541.85" width="5" height="5"/>
<rect x="49.56" y="540.59" width="5" height="5"/>
<rect x="60.38" y="538.05" width="5" height="5"/>
<rect x="82" y="534.56" width="5" height="5"/>
<rect x="125.25" y="532.02" width="5" height="5"/>
<rect x="211.75" y="528.85" width="5" height="5"/>
<path d="M41.25 547.95 L44.55 553.95 H37.95 Z"/>
<path d="M43.95 547.95 L47.25 553.95 H40.65 Z"/>
<path d="M46.66 547.95 L49.96 553.95 H43.36 Z"/>
<path d="M52.06 547.63 L55.36 553.63 H48.76 Z"/>
<path d="M62.88 547.63 L66.17 553.63 H59.58 Z"/>
<path d="M84.5 547.63 L87.8 553.63 H81.2 Z"/>
<path d="M127.75 547.63 L131.05 553.63 H124.45 Z"/>
<path d="M214.25 547 L217.55 553 H210.95 Z"/>
<path d="M140.6 481.1 H156.4" stroke="#000" stroke-width="1.5"/>
<circle cx="148.5" cy="481.1" r="2.5"/>
<text x="163" y="484.7" font-size="10.2" textLength="28.0" lengthAdjust="spacingAndGlyphs">No Ab</text>
<path d="M140.6 496.4 H145.2 M152.2 496.4 H156.2" stroke="#000" stroke-width="1.5"/>
<rect x="146.1" y="494" width="4.8" height="4.8"/>
<text x="163" y="500" font-size="10.2" textLength="27.0" lengthAdjust="spacingAndGlyphs">ESH4</text>
<path d="M140.6 511.7 h2.6 M144.6 511.7 h1.2 M151.5 511.7 h1.2 M154 511.7 h2.3" stroke="#000" stroke-width="1.7"/>
<path d="M148.5 508.2 L151.6 514 H145.4 Z"/>
<text x="163" y="515.3" font-size="10.2" textLength="39.6" lengthAdjust="spacingAndGlyphs">BO2C11</text>
</g>
<g>
<text x="420.75" y="409.6" font-size="12" text-anchor="middle" textLength="27.6" lengthAdjust="spacingAndGlyphs">2159</text>
<path d="M325.75 552.6 L325.75 552.55 L325.77 552.37 L325.79 552.05 L325.82 551.56 L325.86 550.91 L325.92 550.1 L325.99 549.13 L326.07 548 L326.16 546.72 L326.27 545.3 L326.39 543.75 L326.53 542.08 L326.68 540.31 L326.84 538.44 L327.02 536.49 L327.21 534.48 L327.42 532.42 L327.65 530.33 L327.89 528.2 L328.14 526.06 L328.41 523.93 L328.7 521.79 L329 519.68 L329.32 517.58 L329.66 515.52 L330.01 513.49 L330.38 511.5 L330.77 509.56 L331.17 507.67 L331.59 505.83 L332.02 504.03 L332.48 502.3 L332.95 500.62 L333.44 498.99 L333.94 497.42 L334.47 495.9 L335.01 494.44 L335.57 493.03 L336.15 491.67 L336.74 490.37 L337.36 489.11 L337.99 487.9 L338.64 486.74 L339.31 485.63 L339.99 484.55 L340.7 483.52 L341.42 482.54 L342.17 481.59 L342.93 480.67 L343.71 479.8 L344.51 478.96 L345.33 478.15 L346.17 477.37 L347.02 476.63 L347.9 475.91 L348.8 475.22 L349.71 474.56 L350.64 473.93 L351.6 473.31 L352.57 472.73 L353.57 472.16 L354.58 471.62 L355.61 471.09 L356.66 470.59 L357.74 470.1 L358.83 469.64 L359.94 469.19 L361.08 468.75 L362.23 468.34 L363.4 467.93 L364.59 467.54 L365.81 467.17 L367.04 466.81 L368.3 466.46 L369.57 466.12 L370.87 465.8 L372.18 465.48 L373.52 465.18 L374.88 464.89 L376.26 464.6 L377.66 464.33 L379.08 464.06 L380.52 463.81 L381.98 463.56 L383.46 463.32 L384.97 463.09 L386.49 462.86 L388.04 462.64 L389.61 462.43 L391.2 462.23 L392.81 462.03 L394.44 461.84 L396.09 461.65 L397.77 461.47 L399.47 461.29 L401.18 461.12 L402.92 460.96 L404.68 460.8 L406.47 460.64 L408.27 460.49 L410.1 460.34 L411.95 460.2 L413.82 460.06 L415.71 459.92 L417.62 459.79 L419.56 459.66 L421.52 459.54 L423.5 459.42 L425.5 459.3 L427.52 459.18 L429.57 459.07 L431.64 458.96 L433.73 458.86 L435.84 458.75 L437.98 458.65 L440.14 458.55 L442.32 458.46 L444.52 458.37 L446.75 458.27 L448.99 458.19 L451.26 458.1 L453.56 458.01 L455.87 457.93 L458.21 457.85 L460.57 457.77 L462.96 457.7 L465.37 457.62 L467.8 457.55 L470.25 457.48 L472.72 457.41 L475.22 457.34 L477.74 457.27 L480.29 457.21 L482.86 457.14 L485.45 457.08 L488.06 457.02 L490.7 456.96 L493.36 456.9 L496.04 456.85 L498.75 456.79" fill="none" stroke="#000" stroke-width="1.45" stroke-linejoin="round"/>
<path d="M325.75 552.6 L325.75 552.6 L325.77 552.58 L325.79 552.56 L325.82 552.53 L325.86 552.49 L325.92 552.43 L325.99 552.36 L326.07 552.28 L326.16 552.19 L326.27 552.09 L326.39 551.97 L326.53 551.84 L326.68 551.69 L326.84 551.54 L327.02 551.37 L327.21 551.19 L327.42 550.99 L327.65 550.79 L327.89 550.57 L328.14 550.34 L328.41 550.09 L328.7 549.84 L329 549.58 L329.32 549.3 L329.66 549.02 L330.01 548.72 L330.38 548.42 L330.77 548.1 L331.17 547.78 L331.59 547.45 L332.02 547.11 L332.48 546.77 L332.95 546.42 L333.44 546.06 L333.94 545.69 L334.47 545.32 L335.01 544.95 L335.57 544.57 L336.15 544.19 L336.74 543.8 L337.36 543.41 L337.99 543.01 L338.64 542.62 L339.31 542.22 L339.99 541.82 L340.7 541.42 L341.42 541.02 L342.17 540.62 L342.93 540.21 L343.71 539.81 L344.51 539.41 L345.33 539.01 L346.17 538.61 L347.02 538.21 L347.9 537.81 L348.8 537.42 L349.71 537.02 L350.64 536.63 L351.6 536.24 L352.57 535.86 L353.57 535.47 L354.58 535.09 L355.61 534.72 L356.66 534.34 L357.74 533.97 L358.83 533.61 L359.94 533.24 L361.08 532.88 L362.23 532.53 L363.4 532.18 L364.59 531.83 L365.81 531.49 L367.04 531.15 L368.3 530.81 L369.57 530.48 L370.87 530.16 L372.18 529.83 L373.52 529.52 L374.88 529.2 L376.26 528.89 L377.66 528.59 L379.08 528.29 L380.52 527.99 L381.98 527.7 L383.46 527.41 L384.97 527.13 L386.49 526.85 L388.04 526.57 L389.61 526.3 L391.2 526.04 L392.81 525.77 L394.44 525.52 L396.09 525.26 L397.77 525.01 L399.47 524.76 L401.18 524.52 L402.92 524.28 L404.68 524.05 L406.47 523.82 L408.27 523.59 L410.1 523.37 L411.95 523.15 L413.82 522.93 L415.71 522.72 L417.62 522.51 L419.56 522.31 L421.52 522.1 L423.5 521.9 L425.5 521.71 L427.52 521.52 L429.57 521.33 L431.64 521.14 L433.73 520.96 L435.84 520.78 L437.98 520.6 L440.14 520.43 L442.32 520.26 L444.52 520.09 L446.75 519.93 L448.99 519.76 L451.26 519.6 L453.56 519.45 L455.87 519.29 L458.21 519.14 L460.57 518.99 L462.96 518.85 L465.37 518.7 L467.8 518.56 L470.25 518.42 L472.72 518.28 L475.22 518.15 L477.74 518.01 L480.29 517.88 L482.86 517.76 L485.45 517.63 L488.06 517.51 L490.7 517.38 L493.36 517.26 L496.04 517.14 L498.75 517.03" fill="none" stroke="#000" stroke-width="1.28" stroke-dasharray="4.3 2.5" stroke-linejoin="round"/>
<path d="M325.75 552.6 L325.75 552.6 L325.77 552.6 L325.79 552.6 L325.82 552.6 L325.86 552.59 L325.92 552.59 L325.99 552.59 L326.07 552.58 L326.16 552.58 L326.27 552.57 L326.39 552.56 L326.53 552.55 L326.68 552.55 L326.84 552.54 L327.02 552.53 L327.21 552.52 L327.42 552.5 L327.65 552.49 L327.89 552.48 L328.14 552.46 L328.41 552.45 L328.7 552.43 L329 552.42 L329.32 552.4 L329.66 552.38 L330.01 552.36 L330.38 552.34 L330.77 552.32 L331.17 552.3 L331.59 552.28 L332.02 552.26 L332.48 552.23 L332.95 552.21 L333.44 552.19 L333.94 552.16 L334.47 552.14 L335.01 552.11 L335.57 552.08 L336.15 552.06 L336.74 552.03 L337.36 552 L337.99 551.97 L338.64 551.94 L339.31 551.91 L339.99 551.88 L340.7 551.85 L341.42 551.82 L342.17 551.79 L342.93 551.76 L343.71 551.73 L344.51 551.7 L345.33 551.66 L346.17 551.63 L347.02 551.6 L347.9 551.57 L348.8 551.53 L349.71 551.5 L350.64 551.47 L351.6 551.43 L352.57 551.4 L353.57 551.37 L354.58 551.33 L355.61 551.3 L356.66 551.26 L357.74 551.23 L358.83 551.2 L359.94 551.16 L361.08 551.13 L362.23 551.09 L363.4 551.06 L364.59 551.03 L365.81 550.99 L367.04 550.96 L368.3 550.93 L369.57 550.89 L370.87 550.86 L372.18 550.83 L373.52 550.79 L374.88 550.76 L376.26 550.73 L377.66 550.7 L379.08 550.66 L380.52 550.63 L381.98 550.6 L383.46 550.57 L384.97 550.54 L386.49 550.51 L388.04 550.48 L389.61 550.45 L391.2 550.41 L392.81 550.38 L394.44 550.35 L396.09 550.32 L397.77 550.29 L399.47 550.27 L401.18 550.24 L402.92 550.21 L404.68 550.18 L406.47 550.15 L408.27 550.12 L410.1 550.09 L411.95 550.07 L413.82 550.04 L415.71 550.01 L417.62 549.99 L419.56 549.96 L421.52 549.93 L423.5 549.91 L425.5 549.88 L427.52 549.86 L429.57 549.83 L431.64 549.81 L433.73 549.78 L435.84 549.76 L437.98 549.73 L440.14 549.71 L442.32 549.69 L444.52 549.66 L446.75 549.64 L448.99 549.62 L451.26 549.6 L453.56 549.57 L455.87 549.55 L458.21 549.53 L460.57 549.51 L462.96 549.49 L465.37 549.47 L467.8 549.45 L470.25 549.43 L472.72 549.41 L475.22 549.39 L477.74 549.37 L480.29 549.35 L482.86 549.33 L485.45 549.31 L488.06 549.29 L490.7 549.27 L493.36 549.25 L496.04 549.24 L498.75 549.22" fill="none" stroke="#000" stroke-width="1.95" stroke-dasharray="2.1 3.6" stroke-dashoffset="0" stroke-linejoin="round"/>
<path d="M325.75 425.75 H515.75 V552.6" fill="none" stroke="#000" stroke-width="1.35"/>
<path d="M325.75 425.25 V552.6 H516.25" fill="none" stroke="#000" stroke-width="1.4"/>
<path d="M322.05 552.6 H325.75" stroke="#000" stroke-width="1.4"/>
<text x="321.75" y="556.55" font-size="10.3" text-anchor="end" textLength="5.5" lengthAdjust="spacingAndGlyphs">0</text>
<path d="M322.05 510.32 H325.75" stroke="#000" stroke-width="1.4"/>
<text x="321.75" y="514.27" font-size="10.3" text-anchor="end" textLength="5.5" lengthAdjust="spacingAndGlyphs">5</text>
<path d="M322.05 468.03 H325.75" stroke="#000" stroke-width="1.4"/>
<text x="321.75" y="471.98" font-size="10.3" text-anchor="end" textLength="11" lengthAdjust="spacingAndGlyphs">10</text>
<path d="M322.05 425.75 H325.75" stroke="#000" stroke-width="1.4"/>
<text x="321.75" y="429.7" font-size="10.3" text-anchor="end" textLength="11" lengthAdjust="spacingAndGlyphs">15</text>
<path d="M325.75 552.6 V556.1" stroke="#000" stroke-width="1.4"/>
<text x="325.95" y="567.1" font-size="10.3" text-anchor="middle" textLength="5.25" lengthAdjust="spacingAndGlyphs">0</text>
<path d="M369 552.6 V556.1" stroke="#000" stroke-width="1.4"/>
<text x="369.2" y="567.1" font-size="10.3" text-anchor="middle" textLength="10.5" lengthAdjust="spacingAndGlyphs">50</text>
<path d="M412.25 552.6 V556.1" stroke="#000" stroke-width="1.4"/>
<text x="412.45" y="567.1" font-size="10.3" text-anchor="middle" textLength="15.75" lengthAdjust="spacingAndGlyphs">100</text>
<path d="M455.5 552.6 V556.1" stroke="#000" stroke-width="1.4"/>
<text x="455.7" y="567.1" font-size="10.3" text-anchor="middle" textLength="15.75" lengthAdjust="spacingAndGlyphs">150</text>
<path d="M498.75 552.6 V556.1" stroke="#000" stroke-width="1.4"/>
<text x="498.95" y="567.1" font-size="10.3" text-anchor="middle" textLength="15.75" lengthAdjust="spacingAndGlyphs">200</text>
<text y="582.1" font-size="10.4"><tspan x="379.85">Phos</tspan><tspan x="404.05" textLength="37.6" lengthAdjust="spacing">pholipid</tspan><tspan x="441.15" textLength="21.4" lengthAdjust="spacingAndGlyphs">(µM)</tspan></text>
<text transform="translate(298.45 488.38) rotate(-90)" font-size="10" font-weight="bold" text-anchor="middle" textLength="93.6" lengthAdjust="spacingAndGlyphs" stroke="none">FXa Generated (nM)</text>
<circle cx="328.45" cy="524.69" r="2.6"/>
<path d="M331.16 505.67 V511.16 M327.91 505.67 H334.41" stroke="#000" stroke-width="1.15" fill="none"/>
<path d="M331.16 516.66 V511.16 M327.91 516.66 H334.41" stroke="#000" stroke-width="1.15" fill="none"/>
<circle cx="331.16" cy="511.16" r="2.6"/>
<path d="M336.56 483.68 V490.87 M333.31 483.68 H339.81" stroke="#000" stroke-width="1.15" fill="none"/>
<path d="M336.56 498.05 V490.87 M333.31 498.05 H339.81" stroke="#000" stroke-width="1.15" fill="none"/>
<circle cx="336.56" cy="490.87" r="2.6"/>
<path d="M347.38 463.81 V475.64 M344.12 463.81 H350.62" stroke="#000" stroke-width="1.15" fill="none"/>
<path d="M347.38 487.48 V475.64 M344.12 487.48 H350.62" stroke="#000" stroke-width="1.15" fill="none"/>
<circle cx="347.38" cy="475.64" r="2.6"/>
<path d="M369 450.27 V455.35 M365.75 450.27 H372.25" stroke="#000" stroke-width="1.15" fill="none"/>
<path d="M369 460.42 V455.35 M365.75 460.42 H372.25" stroke="#000" stroke-width="1.15" fill="none"/>
<circle cx="369" cy="455.35" r="2.6"/>
<circle cx="412.25" cy="475.64" r="2.6"/>
<circle cx="498.75" cy="451.12" r="2.6"/>
<rect x="325.95" y="547.73" width="5" height="5"/>
<rect x="328.66" y="545.87" width="5" height="5"/>
<rect x="334.06" y="540.8" width="5" height="5"/>
<path d="M347.38 537.63 V539.32 M344.12 537.63 H350.62" stroke="#000" stroke-width="1.15" fill="none"/>
<path d="M347.38 541.01 V539.32 M344.12 541.01 H350.62" stroke="#000" stroke-width="1.15" fill="none"/>
<rect x="344.88" y="536.82" width="5" height="5"/>
<rect x="366.5" y="528.37" width="5" height="5"/>
<rect x="409.75" y="521.35" width="5" height="5"/>
<rect x="496.25" y="513.74" width="5" height="5"/>
<path d="M347.38 548.9 L350.68 554.9 H344.07 Z"/>
<path d="M369 548.48 L372.3 554.48 H365.7 Z"/>
<path d="M412.25 546.79 L415.55 552.79 H408.95 Z"/>
<path d="M498.75 545.35 L502.05 551.35 H495.45 Z"/>
<path d="M446.1 473.8 H461.9" stroke="#000" stroke-width="1.5"/>
<circle cx="454" cy="473.8" r="2.5"/>
<text x="468.5" y="477.4" font-size="10.2" textLength="28.0" lengthAdjust="spacingAndGlyphs">No Ab</text>
<path d="M446.1 488.3 H450.7 M457.7 488.3 H461.7" stroke="#000" stroke-width="1.5"/>
<rect x="451.6" y="485.9" width="4.8" height="4.8"/>
<text x="468.5" y="491.9" font-size="10.2" textLength="27.0" lengthAdjust="spacingAndGlyphs">ESH4</text>
<path d="M446.1 502.8 h2.6 M450.1 502.8 h1.2 M457 502.8 h1.2 M459.5 502.8 h2.3" stroke="#000" stroke-width="1.7"/>
<path d="M454 499.3 L457.1 505.1 H450.9 Z"/>
<text x="468.5" y="506.4" font-size="10.2" textLength="39.6" lengthAdjust="spacingAndGlyphs">BO2C11</text>
</g>
</svg>
</body></html>
